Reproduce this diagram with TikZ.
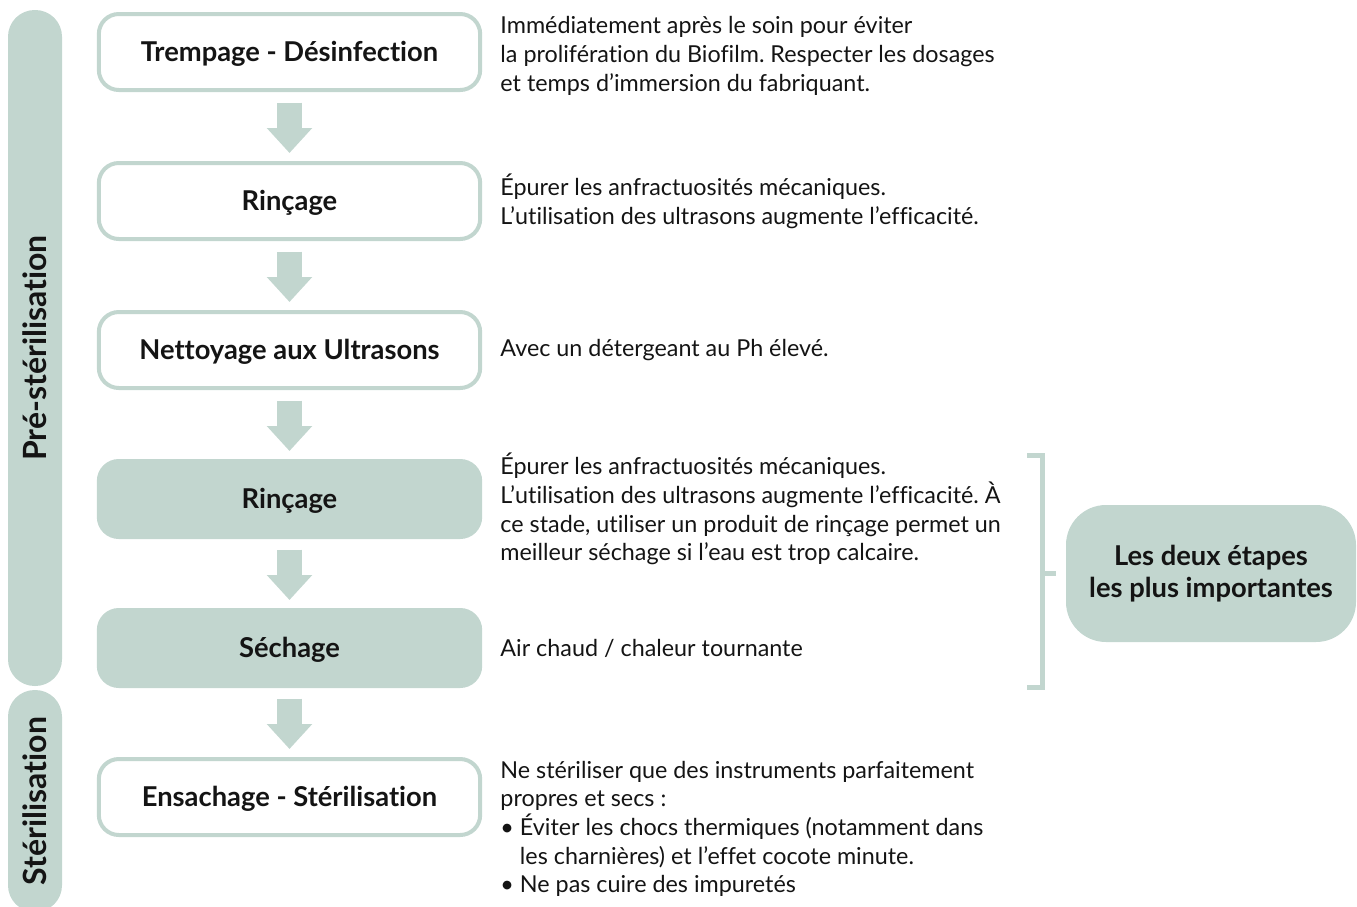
\documentclass[tikz,border=0pt]{standalone}
\usepackage{fontspec}
\setmainfont{Lato}[Ligatures=NoCommon]
\usetikzlibrary{arrows.meta,positioning}
\definecolor{sage}{RGB}{194,214,207}
\definecolor{ink}{RGB}{20,20,20}
\frenchspacing

\begin{document}
\begin{tikzpicture}[
  x=0.75pt, y=-0.75pt,
  font=\fontsize{17.5}{21.5}\selectfont, text=ink,
  node distance=51.75pt,
  stepbox/.style={draw=sage, line width=3pt, rounded corners=15pt, fill=white, minimum width=286pt, minimum height=57pt, text height=14.5pt, text depth=0pt, font=\fontsize{20.5}{24}\selectfont\bfseries},
  keystep/.style={stepbox, fill=sage},
  phase/.style={fill=sage, rounded corners=20pt, minimum height=40.5pt, rotate=90, font=\fontsize{24}{28}\selectfont\bfseries},
  note/.style={align=left, inner sep=0pt},
  flow/.style={draw=sage, line width=18.75pt, -{Triangle[length=18.75pt, width=33pt]}, shorten <=8pt, shorten >=6pt},
  brace/.style={draw=sage, line width=3.75pt}
]
\useasboundingbox (0,0) rectangle (1357,907);

% phases on the left
\node[phase, minimum width=507pt] (pre) at (35,348) {Pré-stérilisation};
\node[phase, minimum width=166.5pt] (steri) at (35,801) {Stérilisation};

% steps
\node[stepbox] (trempage) at (289.5,52) {Trempage - Désinfection};
\node[stepbox, below=of trempage] (rincage) {Rinçage};
\node[stepbox, below=of rincage] (ultrasons) {Nettoyage aux Ultrasons};
\node[keystep, below=of ultrasons] (rincagebis) {Rinçage};
\node[keystep, below=of rincagebis] (sechage) {Séchage};
\node[stepbox, below=of sechage] (ensachage) {Ensachage - Stérilisation};

\draw[flow] (trempage) -- (rincage);
\draw[flow] (rincage) -- (ultrasons);
\draw[flow] (ultrasons) -- (rincagebis);
\draw[flow] (rincagebis) -- (sechage);
\draw[flow] (sechage) -- (ensachage);

% notes
\node[note, right=13.5pt of trempage, yshift=-3pt] (n1) {Immédiatement après le soin pour éviter\\la prolifération du Biofilm. Respecter les dosages\\et temps d’immersion du fabriquant.};
\node[note, right=13.5pt of rincage] (n2) {Épurer les anfractuosités mécaniques.\\L’utilisation des ultrasons augmente l’efficacité.};
\node[note, right=13.5pt of ultrasons] (n3) {Avec un détergeant au Ph élevé.};
\node[note, right=13.5pt of rincagebis, yshift=-7.5pt] (n4) {Épurer les anfractuosités mécaniques.\\L’utilisation des ultrasons augmente l’efficacité. À\\ce stade, utiliser un produit de rinçage permet un\\meilleur séchage si l’eau est trop calcaire.};
\node[note, right=13.5pt of sechage] (n5) {Air chaud / chaleur tournante};
\node[note, right=13.5pt of ensachage, yshift=-24pt] (n6) {Ne stériliser que des instruments parfaitement\\propres et secs :\\\textbullet{} Éviter les chocs thermiques (notamment dans\\\phantom{\textbullet{} }les charnières) et l’effet cocote minute.\\\textbullet{} Ne pas cuire des impuretés};

% key steps
\node[fill=sage, rounded corners=30pt, minimum width=217.5pt, minimum height=102.75pt, align=center, font=\fontsize{20.5}{23.5}\selectfont\bfseries] (key) at (1211,573.5) {Les deux étapes\\les plus importantes};
\coordinate (brtop) at (1042,455);
\coordinate (brbot) at (1042,687);
\draw[brace] ([xshift=-11.25pt]brtop) -- (brtop) -- (brbot) -- ([xshift=-11.25pt]brbot);
\draw[brace] (brtop |- key) -- ([xshift=-7.5pt]key.west);
\end{tikzpicture}
\end{document}
